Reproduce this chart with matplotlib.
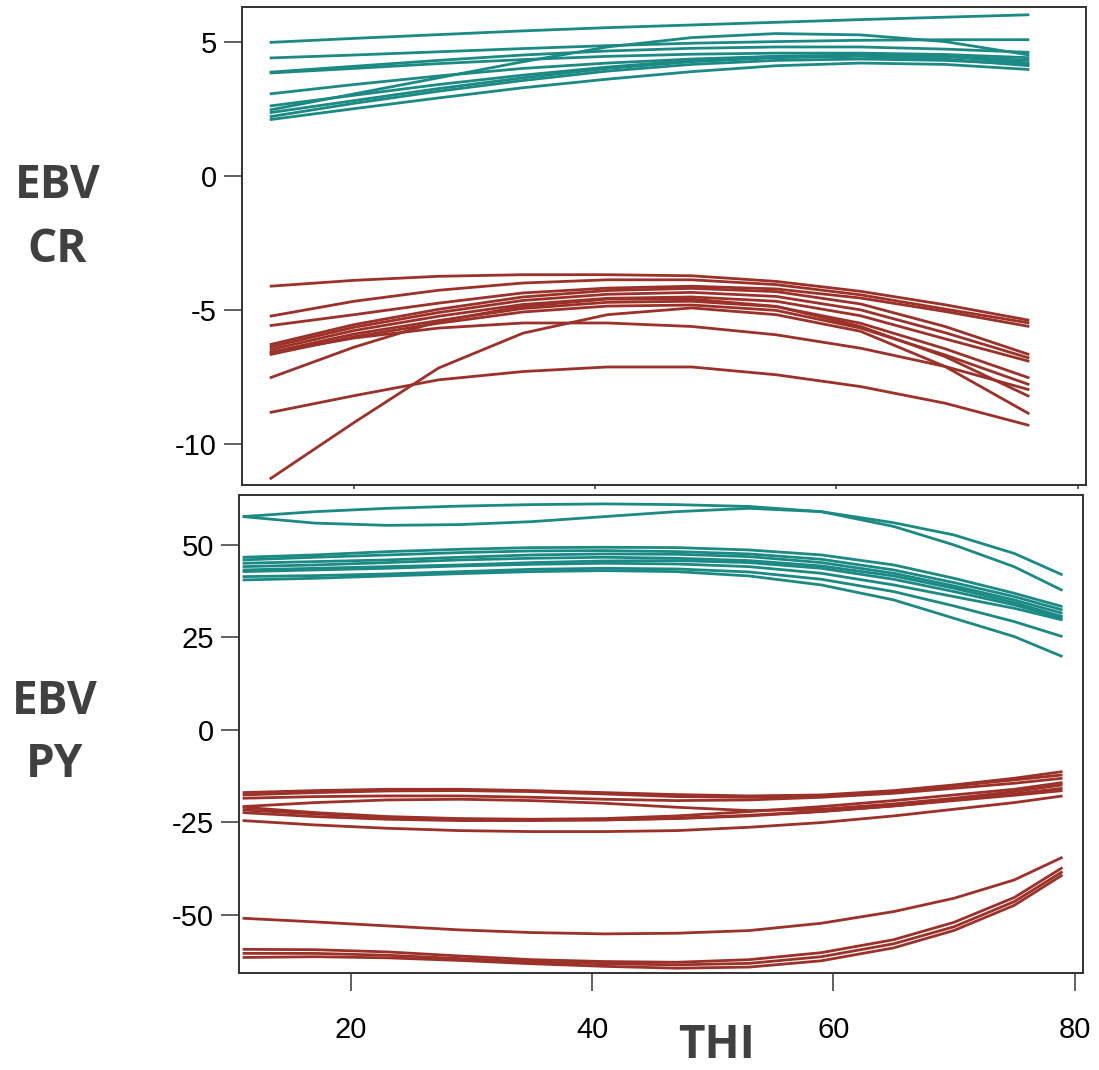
import matplotlib
matplotlib.use("Agg")
import matplotlib.pyplot as plt

plt.rcParams['axes.unicode_minus'] = False

TEAL = '#1b8a85'
RED = '#9b3128'
GREY = '#404040'

# THI grid for the CR curves (top) and PY curves (bottom)
thi_cr = [13, 20, 27, 34, 41, 48, 55, 62, 69, 76]
thi_py = [11, 17, 23, 29, 35, 41, 47, 53, 59, 65, 70, 75, 79]

# EBV for CR, best sires (teal)
cr_top = [
    [4.97, 5.12, 5.26, 5.40, 5.52, 5.62, 5.72, 5.82, 5.91, 6.00],
    [4.39, 4.50, 4.62, 4.74, 4.85, 4.94, 5.00, 5.05, 5.07, 5.07],
    [3.86, 4.08, 4.30, 4.50, 4.65, 4.75, 4.80, 4.80, 4.72, 4.60],
    [3.83, 4.00, 4.18, 4.33, 4.45, 4.53, 4.57, 4.57, 4.52, 4.40],
    [3.05, 3.40, 3.72, 4.00, 4.20, 4.35, 4.45, 4.48, 4.45, 4.30],
    [2.45, 3.05, 3.65, 4.25, 4.80, 5.15, 5.30, 5.25, 5.00, 4.50],
    [2.60, 3.00, 3.40, 3.75, 4.05, 4.30, 4.45, 4.50, 4.45, 4.20],
    [2.35, 2.80, 3.25, 3.65, 4.00, 4.25, 4.40, 4.45, 4.35, 4.10],
    [2.20, 2.70, 3.15, 3.55, 3.90, 4.15, 4.30, 4.35, 4.30, 4.15],
    [2.09, 2.50, 2.90, 3.28, 3.60, 3.88, 4.10, 4.20, 4.15, 3.96],
]

# EBV for CR, worst sires (red)
cr_bottom = [
    [-4.12, -3.90, -3.75, -3.69, -3.69, -3.73, -3.94, -4.31, -4.81, -5.39],
    [-5.24, -4.68, -4.27, -4.00, -3.88, -3.88, -4.06, -4.44, -4.97, -5.49],
    [-5.59, -5.18, -4.75, -4.37, -4.19, -4.12, -4.22, -4.56, -5.06, -5.62],
    [-6.30, -5.55, -4.98, -4.52, -4.28, -4.20, -4.32, -4.78, -5.62, -6.67],
    [-6.39, -5.65, -5.10, -4.65, -4.42, -4.35, -4.50, -5.00, -5.85, -6.80],
    [-6.49, -5.77, -5.24, -4.80, -4.57, -4.52, -4.68, -5.22, -6.08, -6.92],
    [-6.59, -5.90, -5.40, -4.95, -4.72, -4.68, -4.88, -5.50, -6.45, -7.54],
    [-6.67, -6.00, -5.50, -5.08, -4.86, -4.82, -5.02, -5.68, -6.68, -7.79],
    [-6.61, -6.05, -5.68, -5.49, -5.49, -5.62, -5.93, -6.43, -7.11, -7.98],
    [-7.54, -6.39, -5.43, -4.87, -4.60, -4.60, -4.87, -5.62, -6.74, -8.23],
    [-8.83, -8.20, -7.61, -7.30, -7.13, -7.13, -7.42, -7.86, -8.48, -9.31],
    [-11.31, -9.20, -7.17, -5.87, -5.18, -4.93, -5.18, -5.80, -7.11, -8.88],
]

# EBV for PY, best sires (teal)
py_top = [
    [57.66, 59.0, 59.9, 60.5, 60.9, 61.1, 60.9, 60.4, 59.0, 56.0, 52.7, 47.7, 41.9],
    [57.66, 55.9, 55.3, 55.5, 56.3, 57.66, 59.0, 59.9, 59.0, 55.0, 50.0, 44.1, 37.7],
    [46.67, 47.3, 48.2, 48.83, 49.28, 49.37, 49.28, 48.65, 47.3, 44.59, 40.99, 36.94, 33.33],
    [45.95, 46.67, 47.3, 47.93, 48.38, 48.47, 48.2, 47.57, 46.13, 43.24, 39.82, 36.04, 32.43],
    [45.05, 45.5, 45.95, 46.67, 47.3, 47.57, 47.48, 46.85, 45.23, 42.34, 38.92, 35.14, 31.53],
    [44.14, 44.59, 45.23, 45.95, 46.4, 46.67, 46.4, 45.77, 44.32, 41.62, 38.29, 34.41, 30.63],
    [43.24, 43.69, 44.14, 44.59, 45.23, 45.68, 45.77, 45.23, 43.69, 40.72, 37.39, 33.78, 30.18],
    [42.79, 43.24, 43.69, 44.32, 44.77, 45.05, 44.86, 44.14, 42.34, 39.19, 36.04, 32.88, 29.73],
    [41.44, 41.71, 42.16, 42.79, 43.42, 43.69, 43.51, 42.7, 40.72, 37.39, 33.51, 29.28, 25.23],
    [40.54, 40.99, 41.62, 42.25, 42.79, 43.06, 42.79, 41.62, 39.19, 35.14, 30.18, 25.23, 19.82],
]

# EBV for PY, worst sires (red)
py_bottom = [
    [-16.94, -16.40, -16.04, -16.04, -16.40, -16.94, -17.48, -17.84, -17.57, -16.40, -14.86, -13.06, -11.26],
    [-17.57, -16.94, -16.49, -16.40, -16.67, -17.30, -18.02, -18.20, -17.84, -16.67, -15.13, -13.51, -12.16],
    [-18.47, -18.02, -17.84, -17.84, -18.20, -18.74, -19.10, -18.92, -18.20, -17.12, -15.77, -14.41, -13.06],
    [-20.72, -19.64, -18.92, -18.74, -19.10, -19.82, -20.90, -21.80, -21.44, -20.00, -18.47, -16.67, -14.86],
    [-20.90, -22.34, -23.42, -23.96, -24.14, -23.96, -23.24, -22.07, -20.72, -19.10, -17.57, -16.04, -14.23],
    [-21.62, -22.70, -23.60, -24.14, -24.32, -24.32, -23.96, -23.24, -22.07, -20.54, -18.92, -17.30, -15.77],
    [-22.34, -23.42, -24.14, -24.50, -24.50, -24.32, -23.87, -23.06, -21.98, -20.54, -19.10, -17.66, -16.40],
    [-24.50, -25.68, -26.58, -27.21, -27.48, -27.48, -27.21, -26.31, -25.04, -23.24, -21.44, -19.64, -17.84],
    [-50.90, -51.89, -52.97, -54.05, -54.77, -55.13, -54.95, -54.23, -52.25, -49.10, -45.50, -40.54, -34.41],
    [-59.3, -59.4, -60.0, -61.1, -62.1, -62.6, -62.8, -62.1, -60.2, -56.7, -52.0, -45.3, -37.2],
    [-60.4, -60.4, -60.9, -61.8, -62.7, -63.2, -63.5, -63.1, -61.3, -57.8, -53.2, -46.4, -38.3],
    [-61.5, -61.3, -61.6, -62.3, -63.2, -63.9, -64.4, -64.1, -62.4, -58.9, -54.2, -47.4, -39.2],
]

x_ticks = [20, 40, 60, 80]
cr_ticks = [5, 0, -5, -10]
py_ticks = [50, 25, 0, -25, -50]

W, H = 1099, 1070
fig = plt.figure(figsize=(W / 100, H / 100), dpi=100)

tick_family = ['Liberation Sans Narrow', 'Liberation Sans', 'DejaVu Sans']
label_font = dict(family=['Open Sans', 'DejaVu Sans'], size=33, weight='bold', color=GREY)


def style(ax):
    for s in ax.spines.values():
        s.set_color('#333333')
        s.set_linewidth(1.4)
    ax.tick_params(axis='y', direction='out', length=13, width=1.3,
                   color='#555555', pad=5, labelsize=21)
    ax.set_xlim(10.7, 80.7)
    ax.set_xticks(x_ticks)
    for lab in ax.get_yticklabels():
        lab.set_fontfamily(tick_family)


ax1 = fig.add_axes([242 / W, 1 - 485 / H, 844 / W, 478 / H])
for ys in cr_top:
    ax1.plot(thi_cr, ys, color=TEAL, lw=2.0, solid_capstyle='butt')
for ys in cr_bottom:
    ax1.plot(thi_cr, ys, color=RED, lw=2.0, solid_capstyle='butt')
ax1.set_ylim(-11.53, 6.29)
ax1.set_yticks(cr_ticks)
ax1.set_yticklabels([str(t) for t in cr_ticks])
style(ax1)
ax1.tick_params(axis='x', direction='out', length=3, width=1.3,
                color='#555555', labelbottom=False)

ax2 = fig.add_axes([239 / W, 1 - 973 / H, 844 / W, 478 / H])
for ys in py_top:
    ax2.plot(thi_py, ys, color=TEAL, lw=2.0, solid_capstyle='butt')
for ys in py_bottom:
    ax2.plot(thi_py, ys, color=RED, lw=2.0, solid_capstyle='butt')
ax2.set_ylim(-65.7, 63.5)
ax2.set_yticks(py_ticks)
ax2.set_yticklabels([str(t) for t in py_ticks])
style(ax2)
ax2.tick_params(axis='x', direction='out', length=13, width=1.3,
                color='#555555', pad=18, labelsize=21)
for lab in ax2.get_xticklabels():
    lab.set_fontfamily(tick_family)

# axis titles
fig.text(58 / W, 1 - 198 / H, 'EBV', ha='center', va='baseline', **label_font)
fig.text(57 / W, 1 - 262 / H, 'CR', ha='center', va='baseline', **label_font)
fig.text(55 / W, 1 - 714 / H, 'EBV', ha='center', va='baseline', **label_font)
fig.text(55 / W, 1 - 777 / H, 'PY', ha='center', va='baseline', **label_font)
fig.text(717 / W, 1 - 1058 / H, 'THI', ha='center', va='baseline', **label_font)

fig.savefig('out.png', dpi=100)
